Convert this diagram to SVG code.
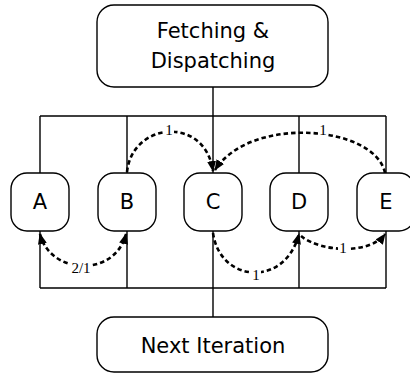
<svg xmlns="http://www.w3.org/2000/svg" width="410" height="374" viewBox="0 0 410 374">
<style>
.box{fill:#fff;stroke:#000;stroke-width:1.4}
.t{font-family:"DejaVu Sans",Verdana,sans-serif;font-size:21px;fill:#000;text-anchor:middle}
.w{fill:none;stroke:#000;stroke-width:1.4}
.d{fill:none;stroke:#000;stroke-width:2.6;stroke-dasharray:4.5 3}
.lb{font-family:"Liberation Serif","Times New Roman",serif;font-size:15px;fill:#000;text-anchor:middle}
.bg{fill:#fff}
</style>
<defs>
<marker id="ah" markerUnits="userSpaceOnUse" markerWidth="11" markerHeight="9" refX="10" refY="4.5" orient="auto-start-reverse" viewBox="0 0 11 9">
<path d="M0,0 L11,4.5 L0,9 z" fill="#000"/>
</marker>
</defs>
<g id="connectors">
<path class="w" d="M40,116 H386 M40,116 V173 M127,116 V173 M213,87 V173 M299,116 V173 M386,116 V173"/>
<path class="w" d="M40,288 H386 M40,231 V288 M127,231 V288 M213,231 V317 M299,231 V288 M386,231 V288"/>
<path class="d" d="M127,172 C132,122 205,115 213,171" marker-end="url(#ah)"/>
<path class="d" d="M385,173 C375,125 250,115 215,170" marker-end="url(#ah)"/>
<path class="d" d="M40,234 C50,275 115,278 126,234" marker-start="url(#ah)" marker-end="url(#ah)"/>
<path class="d" d="M213,233 C220,283 285,288 299,234" marker-end="url(#ah)"/>
<path class="d" d="M301,236 C320,252 370,255 385,234" marker-end="url(#ah)"/>
<rect class="bg" x="164" y="123" width="10" height="13"/>
<text class="lb" x="169" y="135">1</text>
<rect class="bg" x="318" y="123" width="10" height="13"/>
<text class="lb" x="323" y="135">1</text>
<rect class="bg" x="70" y="261" width="22" height="13"/>
<text class="lb" x="81" y="273">2/1</text>
<rect class="bg" x="251" y="268" width="10" height="13"/>
<text class="lb" x="256" y="280">1</text>
<rect class="bg" x="338" y="241" width="10" height="13"/>
<text class="lb" x="343" y="253">1</text>
</g>
<g id="fetch"><rect class="box" x="97" y="5" width="231" height="82" rx="17"/>
<text class="t" x="213" y="38">Fetching &amp;</text><text class="t" x="213" y="68">Dispatching</text></g>
<g id="next"><rect class="box" x="97" y="317" width="231" height="55" rx="17"/>
<text class="t" x="213" y="353">Next Iteration</text></g>
<g id="A"><rect class="box" x="11" y="173" width="58" height="58" rx="16"/><text class="t" x="40" y="209">A</text></g>
<g id="B"><rect class="box" x="98" y="173" width="58" height="58" rx="16"/><text class="t" x="127" y="209">B</text></g>
<g id="C"><rect class="box" x="184" y="173" width="58" height="58" rx="16"/><text class="t" x="213" y="209">C</text></g>
<g id="D"><rect class="box" x="270" y="173" width="58" height="58" rx="16"/><text class="t" x="299" y="209">D</text></g>
<g id="E"><rect class="box" x="357" y="173" width="58" height="58" rx="16"/><text class="t" x="386" y="209">E</text></g>
</svg>
